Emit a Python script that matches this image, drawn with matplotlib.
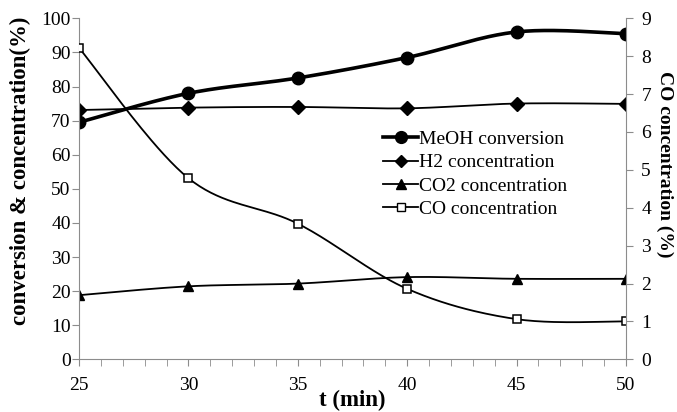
import numpy as np
import matplotlib
matplotlib.use("Agg")
import matplotlib.pyplot as plt
from matplotlib.lines import Line2D

t = [25, 30, 35, 40, 45, 50]
meoh = [69.5, 78.0, 82.5, 88.5, 96.0, 95.5]
h2 = [73.1, 73.8, 74.0, 73.6, 75.0, 74.9]
co2 = [18.8, 21.4, 22.2, 24.1, 23.6, 23.6]
co = [8.22, 4.78, 3.58, 1.86, 1.06, 1.00]

plt.rcParams['font.family'] = ['Liberation Serif', 'DejaVu Serif']


def smooth(x, y, n=40):
    # Catmull-Rom style smoothing (as in spreadsheet smoothed lines)
    x = np.asarray(x, float); y = np.asarray(y, float)
    px = np.concatenate([[x[0]], x, [x[-1]]])
    py = np.concatenate([[y[0]], y, [y[-1]]])
    xs, ys = [], []
    for i in range(1, len(px) - 2):
        p0, p1, p2, p3 = (np.array([px[j], py[j]]) for j in (i - 1, i, i + 1, i + 2))
        c1 = p1 + (p2 - p0) / 6
        c2 = p2 - (p3 - p1) / 6
        s = np.linspace(0, 1, n)[:, None]
        b = (1 - s) ** 3 * p1 + 3 * (1 - s) ** 2 * s * c1 + 3 * (1 - s) * s ** 2 * c2 + s ** 3 * p2
        xs.append(b[:, 0]); ys.append(b[:, 1])
    return np.concatenate(xs), np.concatenate(ys)


W, H = 677, 412
fig = plt.figure(figsize=(W / 100, H / 100), dpi=100)
ax = fig.add_axes([79 / W, 1 - 359.3 / H, (626 - 79) / W, (359.3 - 18.3) / H])
ax2 = ax.twinx()

k = 'black'
sx, sy = smooth(t, meoh)
ax.plot(sx, sy, color=k, lw=2.6)
ax.plot(t, meoh, 'o', color=k, ms=9)
sx, sy = smooth(t, h2)
ax.plot(sx, sy, color=k, lw=1.3)
ax.plot(t, h2, 'D', color=k, ms=7)
sx, sy = smooth(t, co2)
ax.plot(sx, sy, color=k, lw=1.3)
ax.plot(t, co2, '^', color=k, ms=7.5)
sx, sy = smooth(t, co)
ax2.plot(sx, sy, color=k, lw=1.3)
ax2.plot(t, co, 's', mfc='white', mec=k, mew=1.1, ms=6)

ax.set_xlim(25, 50)
ax.set_ylim(0, 100)
ax2.set_ylim(0, 9)
ax.set_xticks(t)
ax.set_xticks(np.arange(25, 51, 1), minor=True)
ax.set_yticks(np.arange(0, 101, 10))
ax2.set_yticks(np.arange(0, 10, 1))

gray = '#8c8c8c'
for a in (ax, ax2):
    for s in a.spines.values():
        s.set_visible(False)
ax.spines['left'].set_visible(True)
ax.spines['bottom'].set_visible(True)
ax2.spines['right'].set_visible(True)
ax.spines['left'].set_color(gray)
ax.spines['bottom'].set_color(gray)
ax2.spines['right'].set_color(gray)

fs = 14
ax.tick_params(axis='x', which='both', direction='out', length=5, color=gray, labelsize=fs, pad=8)
ax.tick_params(axis='y', direction='out', length=5, color=gray, labelsize=fs, pad=1)
ax2.tick_params(axis='y', direction='out', length=5, color=gray, labelsize=fs, pad=6)

fig.text(352.5 / W, 1 - 400 / H, 't (min)', fontsize=16.5, fontweight='bold', ha='center', va='center')
fig.text(20 / W, 1 - 171 / H, 'conversion & concentration(%)', fontsize=16.5, fontweight='bold',
         rotation=90, ha='center', va='center')
fig.text(665 / W, 1 - 164 / H, 'CO concentration (%)', fontsize=14, fontweight='bold',
         rotation=270, ha='center', va='center')

handles = [
    Line2D([], [], color=k, lw=2.6, marker='o', ms=8.5),
    Line2D([], [], color=k, lw=1.3, marker='D', ms=6.5),
    Line2D([], [], color=k, lw=1.3, marker='^', ms=7),
    Line2D([], [], color=k, lw=1.3, marker='s', mfc='white', mec=k, ms=6),
]
labels = ['MeOH conversion', 'H2 concentration', 'CO2 concentration', 'CO concentration']
ax2.legend(handles, labels, loc='upper left', bbox_to_anchor=(0.538, 0.7), frameon=False,
           fontsize=fs, handlelength=1.8, handletextpad=0.05, labelspacing=0.3, borderpad=0)

fig.savefig('out.png', dpi=100)
